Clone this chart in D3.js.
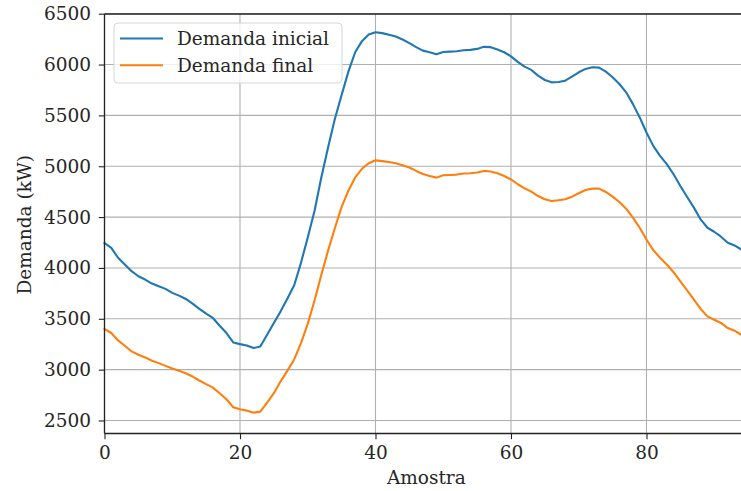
<!DOCTYPE html>
<html>
<head>
<meta charset="utf-8">
<script src="https://cdn.jsdelivr.net/npm/d3@7/dist/d3.min.js"></script>
<style>
  html, body { margin: 0; padding: 0; background: #fff; }
  text { font-family: 'DejaVu Serif', serif; fill: #262626; }
</style>
</head>
<body>
<div id="plot"></div>
<script>
(() => {
'use strict';

// demand per sample (kW)
const demandaInicial = [
  4245, 4198, 4100, 4033, 3968, 3918, 3886, 3846, 3820, 3794,
  3755, 3728, 3695, 3649, 3597, 3550, 3508, 3432, 3360, 3267,
  3251, 3238, 3212, 3228, 3343, 3459, 3573, 3700, 3830, 4050,
  4300, 4560, 4890, 5184, 5464, 5700, 5930, 6121, 6230, 6295,
  6318, 6309, 6292, 6275, 6246, 6210, 6171, 6137, 6121, 6101,
  6124, 6127, 6131, 6141, 6144, 6154, 6174, 6171, 6147, 6121,
  6080, 6026, 5980, 5947, 5891, 5848, 5825, 5828, 5841, 5881,
  5924, 5957, 5973, 5970, 5930, 5875, 5809, 5727, 5611, 5480,
  5332, 5200, 5102, 5020, 4921, 4806, 4697, 4593, 4477, 4395,
  4356, 4307, 4248, 4221, 4181, 4150
];
const demandaFinal = [
  3400, 3360, 3287, 3235, 3179, 3146, 3120, 3087, 3064, 3037,
  3011, 2988, 2965, 2932, 2893, 2857, 2823, 2768, 2709, 2630,
  2610, 2597, 2577, 2587, 2676, 2768, 2885, 2990, 3100, 3260,
  3450, 3680, 3930, 4170, 4390, 4600, 4760, 4890, 4975, 5030,
  5058, 5050, 5042, 5030, 5010, 4987, 4954, 4924, 4904, 4888,
  4911, 4914, 4918, 4928, 4931, 4938, 4954, 4948, 4931, 4904,
  4870, 4823, 4783, 4750, 4707, 4675, 4658, 4665, 4675, 4701,
  4734, 4767, 4780, 4780, 4747, 4701, 4648, 4583, 4494, 4395,
  4280, 4175, 4100, 4034, 3958, 3869, 3780, 3688, 3597, 3524,
  3491, 3459, 3409, 3383, 3343, 3320
];
const seriesNames = ['Demanda inicial', 'Demanda final'];
const seriesColors = ['#1f77b4', '#ff7f0e'];
const xTicks = [0, 20, 40, 60, 80];
const yTicks = [2500, 3000, 3500, 4000, 4500, 5000, 5500, 6000, 6500];

const WIDTH = 741;
const HEIGHT = 491;
const LEFT = 104.5;
const RIGHT = 748.1;
const TOP = 14;
const BOTTOM = 433.5;
const FONT = 18.5;

const svg = d3.select('#plot')
  .append('svg')
  .attr('width', WIDTH)
  .attr('height', HEIGHT);

const xScale = d3.scaleLinear().domain([0, 95]).range([LEFT, RIGHT]);
const yScale = d3.scaleLinear().domain([2372, 6497]).range([BOTTOM, TOP]);

// grid
svg.append('g')
  .selectAll('line')
  .data(xTicks)
  .enter()
  .append('line')
    .attr('x1', (d) => xScale(d))
    .attr('x2', (d) => xScale(d))
    .attr('y1', TOP)
    .attr('y2', BOTTOM)
    .attr('stroke', '#b0b0b0')
    .attr('stroke-width', 1.1);

svg.append('g')
  .selectAll('line')
  .data(yTicks)
  .enter()
  .append('line')
    .attr('x1', LEFT)
    .attr('x2', RIGHT)
    .attr('y1', (d) => yScale(d))
    .attr('y2', (d) => yScale(d))
    .attr('stroke', '#b0b0b0')
    .attr('stroke-width', 1.1);

// lines
const line = d3.line()
  .x((d, i) => xScale(i))
  .y((d) => yScale(d));

[demandaInicial, demandaFinal].forEach((values, k) => {
  svg.append('path')
    .datum(values)
    .attr('d', line)
    .attr('fill', 'none')
    .attr('stroke', seriesColors[k])
    .attr('stroke-width', 2.1)
    .attr('stroke-linejoin', 'round')
    .attr('stroke-linecap', 'square');
});

// axes
const xAxis = d3.axisBottom(xScale).tickValues(xTicks).tickFormat(d3.format('d'))
  .tickSize(5.7).tickPadding(6.7);
const yAxis = d3.axisLeft(yScale).tickValues(yTicks).tickFormat(d3.format('d'))
  .tickSize(5.7).tickPadding(7.8);

const gx = svg.append('g')
  .attr('transform', `translate(0, ${BOTTOM})`)
  .call(xAxis);
const gy = svg.append('g')
  .attr('transform', `translate(${LEFT}, 0)`)
  .call(yAxis);

[gx, gy].forEach((g) => {
  g.select('.domain').remove();
  g.selectAll('.tick line').attr('stroke', '#222').attr('stroke-width', 1.1);
  g.selectAll('.tick text')
    .style('font-family', "'DejaVu Serif', serif")
    .style('font-size', `${FONT}px`)
    .attr('fill', '#262626');
});

// spines
svg.append('line')
  .attr('x1', LEFT).attr('x2', LEFT)
  .attr('y1', TOP).attr('y2', BOTTOM)
  .attr('stroke', '#222').attr('stroke-width', 1.3);
svg.append('line')
  .attr('x1', LEFT).attr('x2', RIGHT)
  .attr('y1', BOTTOM).attr('y2', BOTTOM)
  .attr('stroke', '#222').attr('stroke-width', 1.3);
svg.append('line')
  .attr('x1', LEFT).attr('x2', RIGHT)
  .attr('y1', TOP).attr('y2', TOP)
  .attr('stroke', '#222').attr('stroke-width', 1.3);

// axis labels
svg.append('text')
  .attr('x', (LEFT + RIGHT) / 2)
  .attr('y', 484)
  .attr('text-anchor', 'middle')
  .style('font-size', `${FONT}px`)
  .text('Amostra');

svg.append('text')
  .attr('transform', `translate(31, ${(TOP + BOTTOM) / 2 + 1}) rotate(-90)`)
  .attr('text-anchor', 'middle')
  .style('font-size', `${FONT}px`)
  .text('Demanda (kW)');

// legend
const legend = svg.append('g');
legend.append('rect')
  .attr('x', 114)
  .attr('y', 23)
  .attr('width', 228)
  .attr('height', 60)
  .attr('rx', 4)
  .attr('fill', 'rgba(255,255,255,0.8)')
  .attr('stroke', '#d6d6d6')
  .attr('stroke-width', 1);

const items = legend.selectAll('.item')
  .data(seriesNames)
  .enter()
  .append('g')
    .attr('class', 'item')
    .attr('transform', (d, i) => `translate(120, ${38.5 + i * 26.7})`);

items.append('line')
  .attr('x1', 0)
  .attr('x2', 43)
  .attr('stroke', (d, i) => seriesColors[i])
  .attr('stroke-width', 2.1);

items.append('text')
  .attr('x', 57)
  .attr('dy', '0.35em')
  .style('font-size', `${FONT}px`)
  .text((d) => d);

})();
</script>
</body>
</html>
